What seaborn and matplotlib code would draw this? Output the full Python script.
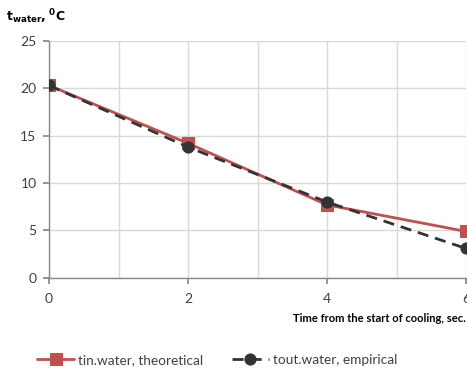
import matplotlib
matplotlib.use("Agg")
import matplotlib.pyplot as plt
import seaborn as sns
import pandas as pd
from matplotlib.ticker import MultipleLocator

time = [0, 2, 4, 6]
tin_theoretical = [20.3, 14.2, 7.7, 4.9]
tout_empirical = [20.3, 13.8, 8.0, 3.1]
series_names = ["tin.water, theoretical", "tout.water, empirical"]

sns.set_theme(style="white")
plt.rcParams['font.family'] = ['Lato', 'DejaVu Sans']

df = pd.DataFrame({
    "time": time * 2,
    "temp": tin_theoretical + tout_empirical,
    "series": [series_names[0]] * 4 + [series_names[1]] * 4,
})

fig = plt.figure(figsize=(4.67, 3.69), dpi=100)
ax = fig.add_axes([0.105, 0.247, 0.893, 0.642])

red = "#C0504D"
dark = "#333333"
sns.lineplot(data=df[df.series == series_names[0]], x="time", y="temp", ax=ax,
             color=red, marker="s", markersize=8, linewidth=2,
             markeredgecolor=red, label=series_names[0], zorder=3)
sns.lineplot(data=df[df.series == series_names[1]], x="time", y="temp", ax=ax,
             color=dark, marker="o", markersize=8, linewidth=2, linestyle=(0, (4, 2.5)),
             markeredgecolor=dark, label=series_names[1], zorder=4)

ax.set_xlim(0, 6)
ax.set_ylim(0, 25)
ax.set_xticks([0, 2, 4, 6])
ax.xaxis.set_minor_locator(MultipleLocator(1))
ax.set_yticks([0, 5, 10, 15, 20, 25])
ax.grid(True, which="both", color="#D9D9D9", linewidth=1)
ax.set_axisbelow(True)
for s in ["top", "right"]:
    ax.spines[s].set_visible(False)
for s in ["left", "bottom"]:
    ax.spines[s].set_color("#888888")
    ax.spines[s].set_linewidth(1)
ax.tick_params(axis="both", which="major", length=4, color="#888888",
               labelsize=10, labelcolor="#404040", direction="out", bottom=True, left=True, pad=5)
ax.tick_params(axis="x", which="major", pad=7)
ax.tick_params(axis="x", which="minor", length=0)
ax.set_xlabel("")
ax.set_ylabel("")

fig.text(0.012, 0.955, r"$\mathbf{t_{water}}$$\mathbf{,}$ $^{\mathbf{0}}$$\mathbf{C}$",
         fontsize=9, ha="left", va="center", color="black")
fig.text(0.998, 0.136, "Time from the start of cooling, sec.", fontsize=8,
         fontweight="bold", ha="right", va="center", color="black")

ax.legend(loc="center left", bbox_to_anchor=(0.054, 0.024), bbox_transform=fig.transFigure,
          ncol=2, frameon=False,
          fontsize=9.8, handlelength=2.7, columnspacing=2.1, handletextpad=0.3,
          labelcolor="#404040")

fig.savefig("out.png", dpi=100)
